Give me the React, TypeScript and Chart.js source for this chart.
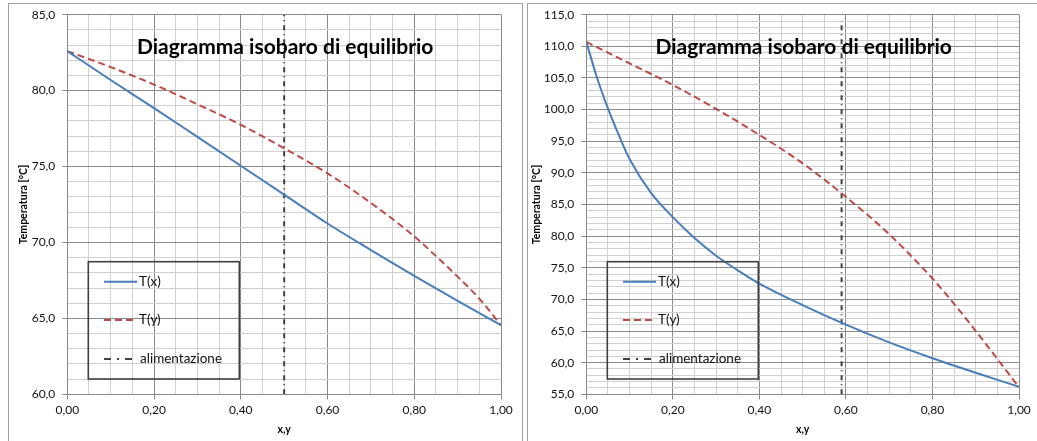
import React, { useEffect, useRef } from 'react';
import { Chart, registerables } from 'chart.js';

Chart.register(...registerables);

// ---------- data ----------
const chartTitle = 'Diagramma isobaro di equilibrio';
const seriesLabels = ['T(x)', 'T(y)', 'alimentazione'];
const xAxisTitle = 'x,y';
const yAxisTitle = 'Temperatura [°C]';

// left chart
const leftTxX = [0, 0.1, 0.2, 0.3, 0.4, 0.5, 0.6, 0.7, 0.8, 0.9, 1.0];
const leftTxY = [82.6, 80.7, 78.85, 76.95, 75.05, 73.15, 71.25, 69.5, 67.8, 66.15, 64.55];
const leftTyX = [0, 0.1, 0.2, 0.3, 0.4, 0.5, 0.6, 0.7, 0.8, 0.85, 0.9, 0.95, 1.0];
const leftTyY = [82.6, 81.55, 80.4, 79.1, 77.75, 76.2, 74.55, 72.6, 70.4, 69.1, 67.75, 66.3, 64.55];
const leftFeedX = [0.5, 0.5];
const leftFeedY = [60, 85];
const leftYMin = 60;
const leftYMax = 85;

// right chart
const rightTxX = [0, 0.025, 0.05, 0.075, 0.1, 0.15, 0.2, 0.25, 0.3, 0.35, 0.4, 0.5, 0.6, 0.7, 0.8, 0.9, 1.0];
const rightTxY = [110.7, 105.0, 100.2, 96.0, 92.2, 86.8, 83.0, 79.7, 76.9, 74.6, 72.5, 69.1, 66.0, 63.2, 60.7, 58.4, 56.2];
const rightTyX = [0, 0.1, 0.2, 0.3, 0.4, 0.5, 0.6, 0.7, 0.8, 0.85, 0.9, 0.95, 1.0];
const rightTyY = [110.7, 107.3, 103.9, 100.1, 96.0, 91.5, 86.2, 80.3, 73.3, 69.3, 65.0, 60.6, 56.1];
const rightFeedX = [0.59, 0.59];
const rightFeedY = [55, 114];
const rightYMin = 55;
const rightYMax = 115;

// ---------- styles ----------
const FONT = 'Lato, Calibri, Carlito, "Open Sans", sans-serif';
const BLUE = '#4A7EBB';
const RED = '#BE4B48';
const FEED = '#404040';
const MAJOR = '#8a8a8a';
const MINOR = '#d0d0d0';
const TEXT = '#111';

const zip = (xs: number[], ys: number[]) => xs.map((x, i) => ({ x, y: ys[i] }));

const overlayPlugin = {
  id: 'overlay',
  afterDatasetsDraw(chart: any) {
    const { ctx, chartArea } = chart;
    ctx.save();
    // title (overlaid on plot area)
    ctx.font = `bold 21px ${FONT}`;
    ctx.fillStyle = '#000';
    ctx.textAlign = 'center';
    ctx.textBaseline = 'alphabetic';
    ctx.fillText(chartTitle, (chartArea.left + chartArea.right) / 2 + 1, chartArea.top + 39.5);

    // legend box
    const bx = chartArea.left + 21;
    const by = chartArea.top + 247;
    const bw = 151;
    const bh = 117.3;
    ctx.strokeStyle = '#404040';
    ctx.lineWidth = 1.6;
    ctx.setLineDash([]);
    ctx.strokeRect(bx, by, bw, bh);

    const rows = [20, 58.3, 97.3];
    chart.data.datasets.forEach((ds: any, i: number) => {
      const y = by + rows[i];
      ctx.beginPath();
      ctx.strokeStyle = ds.borderColor;
      ctx.lineWidth = ds.borderWidth;
      if (i === 2) {
        ctx.setLineDash([7, 6, 2, 6]);
        ctx.moveTo(bx + 15.7, y);
        ctx.lineTo(bx + 43.7, y);
      } else {
        ctx.setLineDash(ds.borderDash || []);
        ctx.moveTo(bx + 15.7, y);
        ctx.lineTo(bx + 48.7, y);
      }
      ctx.stroke();
      ctx.setLineDash([]);
      ctx.font = `13.5px ${FONT}`;
      ctx.fillStyle = TEXT;
      ctx.textAlign = 'left';
      ctx.textBaseline = 'middle';
      ctx.fillText(ds.label, bx + (i === 2 ? 51.7 : 50.7), y);
    });
    ctx.restore();
  },
};

type Spec = {
  txX: number[]; txY: number[]; tyX: number[]; tyY: number[];
  feedX: number[]; feedY: number[]; yMin: number; yMax: number;
  yWidth: number; padRight: number; yTitlePad: number;
};

function makeConfig(s: Spec): any {
  const isMajorY = (v: number) => Math.abs(v % 5) < 1e-6;
  const isMajorX = (v: number) => Math.round(v * 100) % 20 === 0;
  return {
    type: 'scatter',
    data: {
      datasets: [
        {
          label: seriesLabels[0],
          data: zip(s.txX, s.txY),
          showLine: true,
          borderColor: BLUE,
          backgroundColor: BLUE,
          borderWidth: 2,
          pointRadius: 0,
          cubicInterpolationMode: 'monotone',
        },
        {
          label: seriesLabels[1],
          data: zip(s.tyX, s.tyY),
          showLine: true,
          borderColor: RED,
          backgroundColor: RED,
          borderWidth: 2,
          borderDash: [7, 4],
          pointRadius: 0,
          cubicInterpolationMode: 'monotone',
        },
        {
          label: seriesLabels[2],
          data: zip(s.feedX, s.feedY),
          showLine: true,
          borderColor: FEED,
          backgroundColor: FEED,
          borderWidth: 2,
          borderDash: [5, 4, 1, 4],
          pointRadius: 0,
        },
      ],
    },
    options: {
      responsive: false,
      animation: false,
      events: [],
      layout: { padding: { left: 0, right: s.padRight, top: 14.7, bottom: 0 } },
      plugins: { legend: { display: false }, title: { display: false }, tooltip: { enabled: false } },
      scales: {
        x: {
          type: 'linear',
          position: 'bottom',
          min: 0,
          max: 1,
          afterFit: (sc: any) => { sc.height = 46.7; },
          ticks: {
            stepSize: 0.05,
            autoSkip: false,
            maxRotation: 0,
            maxTicksLimit: 1000,
            padding: 4,
            color: TEXT,
            font: { family: FONT, size: 12 },
            callback: (v: number) => (isMajorX(v) ? v.toFixed(2).replace('.', ',') : ''),
          },
          grid: {
            color: (c: any) => (c.tick && isMajorX(c.tick.value) ? MAJOR : MINOR),
            tickColor: (c: any) => (c.tick && isMajorX(c.tick.value) ? MAJOR : 'rgba(0,0,0,0)'),
            tickLength: 5,
            lineWidth: 1,
          },
          border: { color: MAJOR, width: 1 },
          title: {
            display: true,
            text: xAxisTitle,
            color: '#000',
            font: { family: FONT, size: 10.5, weight: 'bold' },
            padding: { top: 0, bottom: 5 },
          },
        },
        y: {
          type: 'linear',
          position: 'left',
          min: s.yMin,
          max: s.yMax,
          afterFit: (sc: any) => { sc.width = s.yWidth; },
          ticks: {
            stepSize: 1,
            autoSkip: false,
            maxTicksLimit: 1000,
            padding: 7,
            color: TEXT,
            font: { family: FONT, size: 12 },
            callback: (v: number) => (isMajorY(v) ? v.toFixed(1).replace('.', ',') : ''),
          },
          grid: {
            color: (c: any) => (c.tick && isMajorY(c.tick.value) ? MAJOR : MINOR),
            tickColor: (c: any) => (c.tick && isMajorY(c.tick.value) ? MAJOR : 'rgba(0,0,0,0)'),
            tickLength: 5,
            lineWidth: 1,
          },
          border: { color: MAJOR, width: 1 },
          title: {
            display: true,
            text: yAxisTitle,
            color: '#000',
            font: { family: FONT, size: 10.5, weight: 'bold' },
            padding: { top: s.yTitlePad, bottom: 0 },
          },
        },
      },
    },
    plugins: [overlayPlugin],
  };
}

function ChartCanvas({ spec, left, width }: { spec: Spec; left: number; width: number }) {
  const ref = useRef<HTMLCanvasElement | null>(null);
  useEffect(() => {
    if (!ref.current) return;
    const chart = new Chart(ref.current, makeConfig(spec));
    return () => chart.destroy();
  }, []);
  return (
    <canvas
      ref={ref}
      width={width}
      height={441}
      style={{ position: 'absolute', left, top: 0, width, height: 441, display: 'block' }}
    />
  );
}

export default function App() {
  const leftSpec: Spec = {
    txX: leftTxX, txY: leftTxY, tyX: leftTyX, tyY: leftTyY,
    feedX: leftFeedX, feedY: leftFeedY, yMin: leftYMin, yMax: leftYMax,
    yWidth: 67.3, padRight: 21, yTitlePad: 17,
  };
  const rightSpec: Spec = {
    txX: rightTxX, txY: rightTxY, tyX: rightTyX, tyY: rightTyY,
    feedX: rightFeedX, feedY: rightFeedY, yMin: rightYMin, yMax: rightYMax,
    yWidth: 64.3, padRight: 18, yTitlePad: 8.7,
  };
  return (
    <div
      style={{
        position: 'absolute', left: 0, top: 0, width: 1037, height: 441,
        overflow: 'hidden', background: '#fff',
      }}
    >
      <div style={{ position: 'absolute', left: 8, top: 3, width: 513, height: 500, border: '1px solid #a0a0a0' }} />
      <div style={{ position: 'absolute', left: 527, top: 3, width: 600, height: 500, border: '1px solid #a0a0a0' }} />
      <ChartCanvas spec={leftSpec} left={0} width={522} />
      <ChartCanvas spec={rightSpec} left={522} width={515} />
    </div>
  );
}
